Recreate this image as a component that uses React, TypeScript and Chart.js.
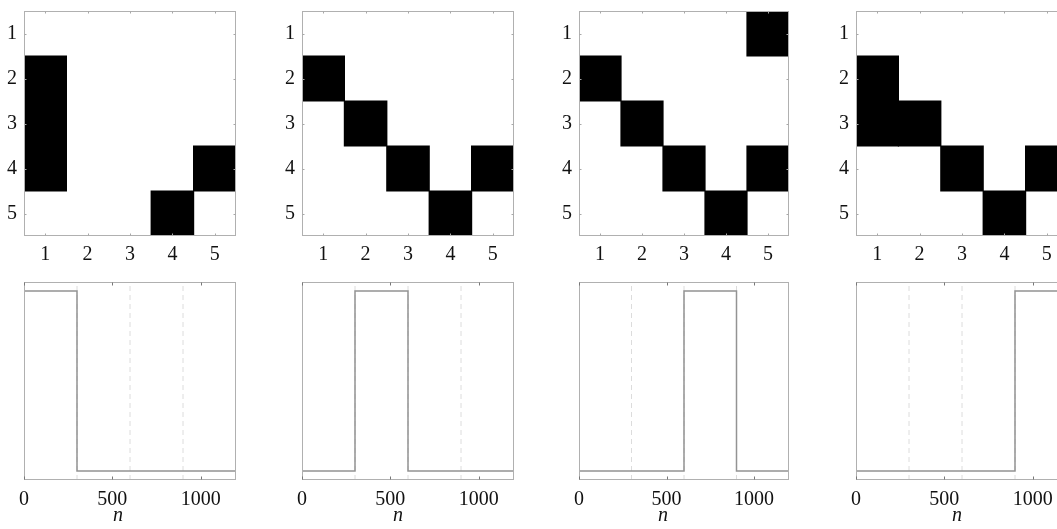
import React, { useEffect, useRef } from 'react';
import { Chart, registerables } from 'chart.js';

Chart.register(...registerables);

// ---------- data ----------
const rowLabels = [1, 2, 3, 4, 5];
const colLabels = ['1', '2', '3', '4', '5'];

const matrixA = [
  [0, 0, 0, 0, 0],
  [1, 0, 0, 0, 0],
  [1, 0, 0, 0, 0],
  [1, 0, 0, 0, 1],
  [0, 0, 0, 1, 0],
];
const matrixB = [
  [0, 0, 0, 0, 0],
  [1, 0, 0, 0, 0],
  [0, 1, 0, 0, 0],
  [0, 0, 1, 0, 1],
  [0, 0, 0, 1, 0],
];
const matrixC = [
  [0, 0, 0, 0, 1],
  [1, 0, 0, 0, 0],
  [0, 1, 0, 0, 0],
  [0, 0, 1, 0, 1],
  [0, 0, 0, 1, 0],
];
const matrixD = [
  [0, 0, 0, 0, 0],
  [1, 0, 0, 0, 0],
  [1, 1, 0, 0, 0],
  [0, 0, 1, 0, 1],
  [0, 0, 0, 1, 0],
];

const nBounds = [0, 300, 600, 900, 1200];
const levelsA = [1, 0, 0, 0];
const levelsB = [0, 1, 0, 0];
const levelsC = [0, 0, 1, 0];
const levelsD = [0, 0, 0, 1];
const dashPositions = [300, 600, 900];
const nTicks = [0, 500, 1000];
const xAxisLabel = 'n';

const matrices = [matrixA, matrixB, matrixC, matrixD];
const levelSets = [levelsA, levelsB, levelsC, levelsD];

// ---------- layout / style ----------
const panelLefts = [24, 302, 579, 856];
const panelWidths = [212, 212, 210, 212];
const nLabelX = [118, 398, 663, 957];
const AXIS_W = 24;
const RIGHT_PAD = 10;
const FONT = { family: "'Liberation Serif', 'DejaVu Serif', serif", size: 20 };
const TEXT_COLOR = '#111';
const FRAME_COLOR = '#b0b0b0';
const STEP_COLOR = '#939393';
const DASH_COLOR = '#dcdcdc';

const framePlugin = {
  id: 'frame',
  afterDatasetsDraw(chart: any, _args: any, opts: any) {
    const { ctx, chartArea: a } = chart;
    ctx.save();
    ctx.strokeStyle = opts.color;
    ctx.lineWidth = 1;
    const l = Math.round(a.left) + 0.5;
    const t = Math.round(a.top) + 0.5;
    const r = Math.round(a.right) - 0.5;
    const b = Math.round(a.bottom) - 0.5;
    ctx.strokeRect(l, t, r - l, b - t);
    ctx.strokeStyle = opts.tickColor;
    const len = opts.tickLen;
    const xs = chart.scales.x;
    xs.ticks.forEach((_t: any, i: number) => {
      const px = Math.round(xs.getPixelForTick(i)) + 0.5;
      ctx.beginPath();
      ctx.moveTo(px, b);
      ctx.lineTo(px, b - len);
      ctx.moveTo(px, t);
      ctx.lineTo(px, t + len);
      ctx.stroke();
    });
    if (opts.yTicks) {
      const ys = chart.scales.y;
      ys.ticks.forEach((_t: any, i: number) => {
        const py = Math.round(ys.getPixelForTick(i)) + 0.5;
        ctx.beginPath();
        ctx.moveTo(l, py);
        ctx.lineTo(l + len, py);
        ctx.moveTo(r, py);
        ctx.lineTo(r - len, py);
        ctx.stroke();
      });
    }
    ctx.restore();
  },
};

const noPadX = (height: number) => (s: any) => {
  s.height = height;
  s.paddingLeft = 0;
  s.paddingRight = 0;
};
const noPadY = (s: any) => {
  s.width = AXIS_W;
  s.paddingTop = 0;
  s.paddingBottom = 0;
};

function MatrixPanel({ matrix, left, width }: { matrix: number[][]; left: number; width: number }) {
  const ref = useRef<HTMLCanvasElement>(null);
  const cw = AXIS_W + width + RIGHT_PAD;
  const ch = 270;
  useEffect(() => {
    const datasets = matrix.map((row, r) => ({
      label: 'row ' + rowLabels[r],
      data: row.map((v) => (v ? [rowLabels[r] - 0.5, rowLabels[r] + 0.5] : null)),
      backgroundColor: '#000',
      borderWidth: 0,
      grouped: false,
      barPercentage: 1,
      categoryPercentage: 1,
      inflateAmount: 0.6,
    }));
    const chart = new Chart(ref.current as HTMLCanvasElement, {
      type: 'bar',
      data: { labels: colLabels, datasets: datasets as any },
      plugins: [framePlugin as any],
      options: {
        animation: false,
        responsive: false,
        maintainAspectRatio: false,
        devicePixelRatio: 1,
        events: [],
        layout: { padding: { top: 11, right: RIGHT_PAD, left: 0, bottom: 0 } },
        plugins: {
          legend: { display: false },
          tooltip: { enabled: false },
          frame: { color: FRAME_COLOR, tickColor: '#a8a8a8', tickLen: 2, yTicks: true },
        } as any,
        scales: {
          x: {
            type: 'category',
            offset: true,
            grid: { display: false, drawTicks: false },
            border: { display: false },
            ticks: { font: FONT, color: TEXT_COLOR, padding: 7, maxRotation: 0, autoSkip: false },
            afterFit: noPadX(34),
          },
          y: {
            type: 'linear',
            min: 0.5,
            max: 5.5,
            reverse: true,
            grid: { display: false, drawTicks: false },
            border: { display: false },
            ticks: { font: FONT, color: TEXT_COLOR, padding: 7, callback: (v: any) => String(v) },
            afterBuildTicks: (s: any) => {
              s.ticks = rowLabels.map((v) => ({ value: v }));
            },
            afterFit: noPadY,
          },
        },
      } as any,
    });
    return () => chart.destroy();
  }, []);
  return (
    <canvas
      ref={ref}
      width={cw}
      height={ch}
      style={{ position: 'absolute', left: left - AXIS_W, top: 0, width: cw, height: ch }}
    />
  );
}

function StepPanel({ levels, left, width }: { levels: number[]; left: number; width: number }) {
  const ref = useRef<HTMLCanvasElement>(null);
  const cw = AXIS_W + width + RIGHT_PAD;
  const ch = 259;
  useEffect(() => {
    const yMin = -0.05;
    const yMax = 1.05;
    const stepData = nBounds.map((x, i) => ({ x, y: levels[Math.min(i, levels.length - 1)] }));
    const datasets: any[] = [
      {
        label: 'state',
        data: stepData,
        stepped: 'before',
        borderColor: STEP_COLOR,
        borderWidth: 1.5,
        pointRadius: 0,
        fill: false,
        order: 0,
      },
      ...dashPositions.map((p) => ({
        label: 'boundary ' + p,
        data: [
          { x: p, y: yMin },
          { x: p, y: yMax },
        ],
        borderColor: DASH_COLOR,
        borderWidth: 1,
        borderDash: [5, 4],
        pointRadius: 0,
        fill: false,
        order: 1,
      })),
    ];
    const chart = new Chart(ref.current as HTMLCanvasElement, {
      type: 'line',
      data: { datasets },
      plugins: [framePlugin as any],
      options: {
        animation: false,
        responsive: false,
        maintainAspectRatio: false,
        devicePixelRatio: 1,
        events: [],
        layout: { padding: { top: 12, right: RIGHT_PAD, left: 0, bottom: 0 } },
        plugins: {
          legend: { display: false },
          tooltip: { enabled: false },
          frame: { color: FRAME_COLOR, tickColor: '#777', tickLen: 3, yTicks: false },
        } as any,
        scales: {
          x: {
            type: 'linear',
            min: nBounds[0],
            max: nBounds[nBounds.length - 1],
            grid: { display: false, drawTicks: false },
            border: { display: false },
            ticks: { font: FONT, color: TEXT_COLOR, padding: 8, maxRotation: 0, callback: (v: any) => String(v) },
            afterBuildTicks: (s: any) => {
              s.ticks = nTicks.map((v) => ({ value: v }));
            },
            afterFit: noPadX(49),
          },
          y: {
            type: 'linear',
            min: yMin,
            max: yMax,
            grid: { display: false, drawTicks: false },
            border: { display: false },
            ticks: { display: false },
            afterFit: noPadY,
          },
        },
      } as any,
    });
    return () => chart.destroy();
  }, []);
  return (
    <canvas
      ref={ref}
      width={cw}
      height={ch}
      style={{ position: 'absolute', left: left - AXIS_W, top: 270, width: cw, height: ch }}
    />
  );
}

export default function App() {
  return (
    <div
      style={{
        position: 'absolute',
        left: 0,
        top: 0,
        width: 1057,
        height: 529,
        overflow: 'hidden',
        background: '#fff',
      }}
    >
      {matrices.map((m, i) => (
        <MatrixPanel key={'m' + i} matrix={m} left={panelLefts[i]} width={panelWidths[i]} />
      ))}
      {levelSets.map((lv, i) => (
        <StepPanel key={'s' + i} levels={lv} left={panelLefts[i]} width={panelWidths[i]} />
      ))}
      {nLabelX.map((x, i) => (
        <span
          key={'n' + i}
          style={{
            position: 'absolute',
            left: x,
            top: 504,
            transform: 'translateX(-50%)',
            fontFamily: "'Liberation Serif', 'DejaVu Serif', serif",
            fontStyle: 'italic',
            fontSize: 20,
            lineHeight: '20px',
            color: TEXT_COLOR,
          }}
        >
          {xAxisLabel}
        </span>
      ))}
    </div>
  );
}
